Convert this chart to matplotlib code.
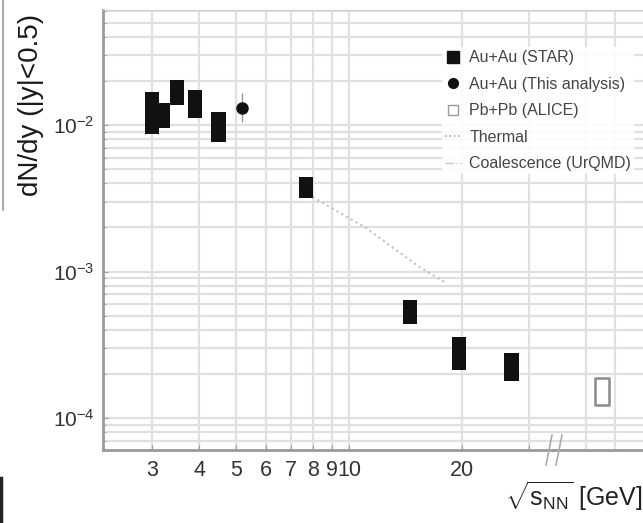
import matplotlib
matplotlib.use("Agg")
import matplotlib.pyplot as plt
from matplotlib.lines import Line2D
from matplotlib.ticker import FixedLocator, NullFormatter, LogLocator

plt.rcParams["font.family"] = ["Liberation Sans", "DejaVu Sans"]
plt.rcParams["mathtext.fontset"] = "custom"
plt.rcParams["mathtext.rm"] = "Liberation Sans"

# STAR Au+Au: energies and systematic box extents
star_energy = [3.0, 3.2, 3.5, 3.9, 4.5, 7.7, 14.5, 19.6, 27.0]
star_low = [0.0087, 0.0095, 0.0137, 0.0112, 0.0077, 0.0032, 4.35e-4, 2.14e-4, 1.79e-4]
star_high = [0.0168, 0.0141, 0.0203, 0.0173, 0.0123, 0.0044, 6.44e-4, 3.55e-4, 2.78e-4]

# Au+Au this analysis
this_energy = [5.2]
this_value = [0.0131]
this_err_low = [0.0026]
this_err_high = [0.0035]

# Pb+Pb ALICE
alice_energy = [2760.0]
alice_low = [1.23e-4]
alice_high = [1.87e-4]

# Thermal model curve (as visible)
thermal_energy = [8.0, 11.1, 15.4, 18.2]
thermal_value = [3.23e-3, 1.98e-3, 1.07e-3, 8.3e-4]

x_ticks = [3, 4, 5, 6, 7, 8, 9, 10, 20, 30]
x_tick_labels = ["3", "4", "5", "6", "7", "8", "9", "10", "20", ""]

W, H = 643, 523
fig = plt.figure(figsize=(W / 100, H / 100), dpi=100)
ax1 = fig.add_axes([103 / W, 73 / H, 450 / W, 440 / H])
ax2 = fig.add_axes([553 / W, 73 / H, 97 / W, 440 / H], sharey=ax1)

GRID = "#e0e0e0"
SPINE = "#9a9a9a"
BOX_HALF = 1.044  # multiplicative half-width of boxes on log x

for ax in (ax1, ax2):
    ax.set_xscale("log")
    ax.set_yscale("log")
    ax.set_ylim(6.05e-5, 0.061)
    ax.yaxis.set_major_locator(LogLocator(base=10))
    ax.yaxis.set_minor_locator(LogLocator(base=10, subs=range(2, 10)))
    ax.grid(True, which="both", axis="y", color=GRID, lw=1.6)
    ax.grid(True, which="major", axis="x", color=GRID, lw=1.6)
    ax.tick_params(which="both", direction="in", color=SPINE, labelcolor="#333333")
    ax.spines["top"].set_color("#cfcfcf")
    ax.spines["bottom"].set_color(SPINE)
    ax.spines["bottom"].set_linewidth(2)
    ax.set_axisbelow(True)

ax1.set_xlim(2.22, 34.8)
ax1.xaxis.set_major_locator(FixedLocator(x_ticks))
ax1.xaxis.set_minor_locator(FixedLocator([]))
ax1.set_xticklabels(x_tick_labels)
ax1.xaxis.set_minor_formatter(NullFormatter())
ax1.tick_params(axis="x", labelsize=15.5, pad=7)
ax1.tick_params(axis="y", labelsize=15, pad=6)
ax1.spines["left"].set_color(SPINE)
ax1.spines["left"].set_linewidth(2)
ax1.spines["right"].set_visible(False)

ax2.set_xlim(2030, 3723)
ax2.xaxis.set_major_locator(FixedLocator([2500, 3000]))
ax2.xaxis.set_minor_locator(FixedLocator([]))
ax2.xaxis.set_major_formatter(NullFormatter())
ax2.xaxis.set_minor_formatter(NullFormatter())
ax2.tick_params(axis="y", left=False, labelleft=False, which="both")
ax2.tick_params(axis="x", bottom=False, which="both")
ax2.spines["left"].set_visible(False)
ax2.spines["right"].set_visible(False)

for x, lo, hi in zip(star_energy, star_low, star_high):
    ax1.fill_between([x / BOX_HALF, x * BOX_HALF], lo, hi, color="#111111", lw=0, zorder=3)

ax1.errorbar(this_energy, this_value, yerr=[this_err_low, this_err_high], fmt="o",
             color="#111111", ms=8, elinewidth=1, ecolor="#999999", capsize=0, zorder=4)

for x, lo, hi in zip(alice_energy, alice_low, alice_high):
    ax2.fill_between([x / BOX_HALF, x * BOX_HALF], lo, hi, facecolor="white",
                     edgecolor="#8a8a8a", lw=1.8, zorder=3)

ax1.plot(thermal_energy, thermal_value, ls=":", color="#c0c0c0", lw=1.5, zorder=2)

# axis break marks
for xp in (549, 559):
    fig.add_artist(Line2D([(xp - 3) / W, (xp + 3) / W], [(H - 465) / H, (H - 435) / H],
                          color="#aaaaaa", lw=1.2))

# legend
handles = [
    Line2D([], [], marker="s", ls="none", color="#111111", ms=8),
    Line2D([], [], marker="o", ls="none", color="#111111", ms=7),
    Line2D([], [], marker="s", ls="none", mfc="white", mec="#9a9a9a", ms=7),
    Line2D([], [], ls=":", color="#aaaaaa", lw=1.2),
    Line2D([], [], ls="-.", color="#cccccc", lw=1.0),
]
labels = ["Au+Au (STAR)", "Au+Au (This analysis)", "Pb+Pb (ALICE)", "Thermal", "Coalescence (UrQMD)"]
leg = fig.legend(handles, labels, loc="upper left", bbox_to_anchor=(442 / W, 1 - 47 / H),
                 fontsize=11.5, frameon=True, facecolor="white", edgecolor="none",
                 framealpha=0.9, labelspacing=0.72, handlelength=1.0, handletextpad=0.5,
                 borderpad=0.2, borderaxespad=0)
for t in leg.get_texts():
    t.set_color("#444444")

fig.text(31 / W, 1 - 105 / H, "dN/dy (|y|<0.5)", rotation=90, ha="center", va="center",
         fontsize=20, color="#1a1a1a")
fig.text(0.999, 1 - 496 / H, r"$\sqrt{\mathrm{s}_{\mathrm{NN}}}$ [GeV]", ha="right", va="center",
         fontsize=18, color="#222222")

# cropped-edge remnants seen in the reference
fig.add_artist(Line2D([3 / W, 3 / W], [1.0, 1 - 210 / H], color="#9a9a9a", lw=1.2))
fig.add_artist(Line2D([1 / W, 1 / W], [1 - 478 / H, 0.0], color="#222222", lw=2.5))

fig.savefig("out.png", dpi=100)
